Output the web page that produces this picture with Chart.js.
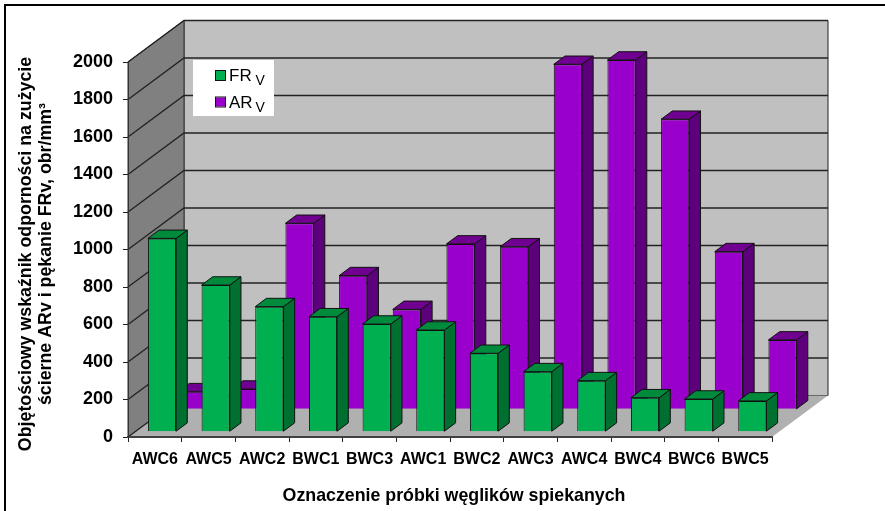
<!DOCTYPE html>
<html>
<head>
<meta charset="utf-8">
<title>Oznaczenie próbki węglików spiekanych</title>
<script src="https://cdn.jsdelivr.net/npm/chart.js@4"></script>
<style>
  html, body { margin: 0; padding: 0; background: #fff; }
  #wrap { position: relative; width: 885px; height: 511px; overflow: hidden; }
  #frame { position: absolute; left: 4px; top: 4px; width: 900px; height: 540px; border: 2px solid #000; }
  #myChart { position: absolute; left: 0; top: 0; }
</style>
</head>
<body>
<div id="wrap">
  <div id="frame"></div>
  <canvas id="myChart" width="885" height="511"></canvas>
</div>
<script>
var samples = ["AWC6", "AWC5", "AWC2", "BWC1", "BWC3", "AWC1", "BWC2", "AWC3", "AWC4", "BWC4", "BWC6", "BWC5"];
var fr_values = [1031, 782, 667, 613, 574, 542, 418, 320, 272, 181, 174, 164];
var ar_values = [94, 108, 992, 713, 533, 882, 867, 1840, 1863, 1547, 841, 370];
var series_names = ["FR", "AR"];
var series_sub = "V";

var y_title = ["Objętościowy wskaźnik odporności na zużycie", "ścierne ARv i pękanie FRv, obr/mm³"];
var x_title = "Oznaczenie próbki węglików spiekanych";

// depth of the whole box in pixels
var DEPTH_X = 56;
var DEPTH_Y = -41.5;
// how far into the box each row of bars starts, and how deep a bar is
var row_start = [0.128, 0.667];
var bar_depth = 0.2;

var front_colors = ["#00B050", "#9900CC"];
var side_colors = ["#007030", "#5C007C"];
var top_colors = ["#008A3C", "#70008F"];

function fill_poly(ctx, pts, color, stroke) {
  ctx.beginPath();
  ctx.moveTo(pts[0][0], pts[0][1]);
  for(var i = 1; i < pts.length; i++) {
    ctx.lineTo(pts[i][0], pts[i][1]);
  }
  ctx.closePath();
  ctx.fillStyle = color;
  ctx.fill();
  if(stroke) {
    ctx.strokeStyle = stroke;
    ctx.lineWidth = 1;
    ctx.stroke();
  }
}

function draw_box(chart) {
  var ctx = chart.ctx;
  var y = chart.scales.y;
  var area = chart.chartArea;
  var l = area.left, r = area.right, t = y.getPixelForValue(2000), b = y.getPixelForValue(0);

  ctx.save();
  fill_poly(ctx, [[l + DEPTH_X, t + DEPTH_Y], [r + DEPTH_X, t + DEPTH_Y], [r + DEPTH_X, b + DEPTH_Y], [l + DEPTH_X, b + DEPTH_Y]], "#C0C0C0", "#222");
  fill_poly(ctx, [[l, t], [l + DEPTH_X, t + DEPTH_Y], [l + DEPTH_X, b + DEPTH_Y], [l, b]], "#808080", "#333");
  fill_poly(ctx, [[l, b], [l + DEPTH_X, b + DEPTH_Y], [r + DEPTH_X, b + DEPTH_Y], [r, b]], "#B0B0B0");

  ctx.strokeStyle = "#222";
  ctx.lineWidth = 1.3;
  y.ticks.forEach(function(tick) {
    var py = y.getPixelForValue(tick.value);
    ctx.beginPath();
    ctx.moveTo(l, py);
    ctx.lineTo(l + DEPTH_X, py + DEPTH_Y);
    if(tick.value > 0) {
      ctx.lineTo(r + DEPTH_X, py + DEPTH_Y);
    }
    ctx.stroke();
  });

  draw_legend(ctx);
  draw_titles(ctx);
  ctx.restore();
}

function draw_legend(ctx) {
  ctx.fillStyle = "#fff";
  ctx.fillRect(193, 60, 81, 56);
  ctx.textBaseline = "alphabetic";
  ctx.textAlign = "left";
  for(var i = 0; i < series_names.length; i++) {
    var row_y = 71 + i * 26.5;
    ctx.fillStyle = front_colors[i];
    ctx.strokeStyle = "#111";
    ctx.lineWidth = 1;
    ctx.fillRect(216, row_y, 9, 9);
    ctx.strokeRect(215.5, row_y - 0.5, 10, 10);
    ctx.fillStyle = "#000";
    ctx.font = "17px 'Liberation Sans'";
    ctx.fillText(series_names[i], 229, row_y + 10);
    ctx.font = "14px 'Liberation Sans'";
    ctx.fillText(series_sub, 255.5, row_y + 14);
  }
}

// both axis titles sit a little below/right of the centre of their axis
function draw_titles(ctx) {
  ctx.fillStyle = "#000";
  ctx.font = "bold 17.8px 'Liberation Sans'";
  ctx.textAlign = "center";
  ctx.textBaseline = "middle";
  ctx.fillText(x_title, 454, 496);
  ctx.save();
  ctx.translate(26, 254);
  ctx.rotate(-Math.PI / 2);
  ctx.fillText(y_title[0], 0, 0);
  ctx.fillText(y_title[1], 0, 20);
  ctx.restore();
}

var box_plugin = {
  id: "box_plugin",
  beforeDraw: draw_box,
  beforeDatasetDraw: function(chart, args) {
    var ctx = chart.ctx;
    var ox = row_start[args.index] * DEPTH_X;
    var oy = row_start[args.index] * DEPTH_Y;
    var bx = bar_depth * DEPTH_X;
    var by = bar_depth * DEPTH_Y;
    ctx.save();
    args.meta.data.forEach(function(bar) {
      var x0 = bar.x - bar.width / 2 + ox, x1 = bar.x + bar.width / 2 + ox;
      var top = bar.y + oy, base = bar.base + oy;
      fill_poly(ctx, [[x1, top], [x1 + bx, top + by], [x1 + bx, base + by], [x1, base]], side_colors[args.index], "#111");
      fill_poly(ctx, [[x0, top], [x0 + bx, top + by], [x1 + bx, top + by], [x1, top]], top_colors[args.index], "#111");
    });
    // the bar itself is drawn by the library, moved back to its row
    ctx.translate(ox, oy);
  },
  afterDatasetDraw: function(chart) {
    chart.ctx.restore();
  }
};

var bold = function(size) {
  return {family: "'Liberation Sans', Arial, sans-serif", weight: "bold", size: size};
};

new Chart(document.getElementById("myChart"), {
  type: "bar",
  data: {
    labels: samples,
    datasets: [
      {label: series_names[0], data: fr_values, backgroundColor: front_colors[0]},
      {label: series_names[1], data: ar_values, backgroundColor: front_colors[1]}
    ]
  },
  plugins: [box_plugin],
  options: {
    responsive: false,
    animation: false,
    layout: {padding: {left: 0, top: 62, right: 113, bottom: 0}},
    datasets: {bar: {grouped: false, categoryPercentage: 1, barPercentage: 0.525, borderColor: "#111", borderWidth: 1, clip: false}},
    plugins: {legend: {display: false}, tooltip: {enabled: false}},
    scales: {
      x: {
        afterFit: function(scale) { scale.height = 74; },
        grid: {drawOnChartArea: false, tickLength: 5, color: "#222"},
        border: {color: "#404040", width: 2},
        ticks: {color: "#000", font: bold(16), padding: 8, maxRotation: 0, autoSkip: false}
      },
      y: {
        min: 0,
        max: 2000,
        afterFit: function(scale) { scale.width = 128; },
        grid: {drawOnChartArea: false, tickLength: 5, color: "#222"},
        border: {color: "#333", width: 1},
        ticks: {stepSize: 200, color: "#000", font: bold(18), padding: 10, callback: function(v) { return String(v); }}
      }
    }
  }
});
</script>
</body>
</html>
